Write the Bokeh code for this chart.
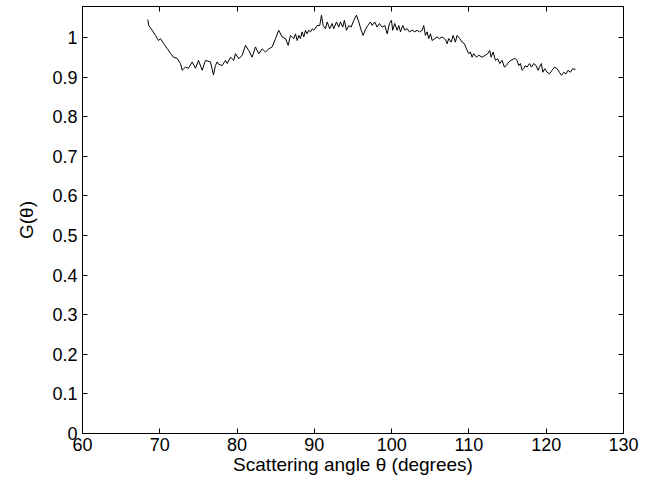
from bokeh.plotting import figure
from bokeh.models import Range1d, FixedTicker, LinearAxis
from bokeh.embed import file_html
from bokeh.resources import INLINE

angle = [68.45, 68.58, 69.02, 69.44, 69.83, 70.09, 70.48, 70.96, 71.38, 71.77, 72.25, 72.68, 72.90, 73.32,
         73.71, 74.19, 74.62, 75.01, 75.49, 75.91, 76.56, 76.95, 77.20, 77.42, 77.63, 78.07, 78.50, 78.72,
         79.15, 79.57, 79.79, 80.22, 80.66, 81.09, 81.51, 81.95, 82.38, 82.81, 83.25, 83.67, 84.10, 84.54,
         84.97, 85.39, 85.83, 86.26, 86.61, 86.91, 87.13, 87.34, 87.56, 87.78, 87.99, 88.20, 88.42, 88.63,
         88.85, 89.07, 89.28, 89.50, 89.72, 89.93, 90.36, 90.70, 90.92, 91.14, 91.44, 91.66, 91.99, 92.30,
         92.51, 92.86, 93.16, 93.38, 93.67, 93.89, 94.15, 94.45, 94.76, 95.10, 95.45, 95.75, 96.06, 96.31,
         96.61, 96.91, 97.26, 97.48, 97.81, 98.12, 98.42, 98.77, 99.11, 99.42, 99.72, 99.97, 100.14, 100.40,
         100.71, 100.92, 101.14, 101.44, 101.70, 102.01, 102.30, 102.65, 102.99, 103.30, 103.60, 103.95,
         104.15, 104.37, 104.59, 104.80, 105.02, 105.24, 105.58, 105.89, 106.18, 106.53, 106.96, 107.18,
         107.39, 107.70, 107.96, 108.25, 108.47, 108.81, 109.12, 109.42, 109.68, 109.97, 110.19, 110.41,
         110.62, 110.97, 111.27, 111.71, 112.13, 112.43, 112.69, 112.87, 113.13, 113.43, 113.73, 113.99,
         114.29, 114.59, 114.85, 115.15, 115.46, 115.80, 116.02, 116.23, 116.45, 116.66, 116.88, 117.09,
         117.31, 117.53, 117.83, 118.09, 118.38, 118.69, 118.95, 119.12, 119.38, 119.55, 119.81, 120.12,
         120.41, 120.76, 121.10, 121.41, 121.71, 121.97, 122.26, 122.57, 122.83, 123.13, 123.43, 123.78]

g_theta = [1.045, 1.030, 1.018, 1.005, 0.992, 0.997, 0.985, 0.972, 0.960, 0.950, 0.947, 0.934, 0.917, 0.925,
           0.922, 0.938, 0.922, 0.942, 0.917, 0.942, 0.938, 0.905, 0.929, 0.938, 0.932, 0.929, 0.942, 0.934,
           0.950, 0.942, 0.959, 0.946, 0.955, 0.980, 0.967, 0.950, 0.976, 0.959, 0.971, 0.963, 0.971, 0.976,
           0.997, 1.018, 1.001, 0.997, 0.980, 1.005, 1.001, 0.997, 1.009, 0.992, 1.005, 0.997, 1.014, 1.001,
           1.018, 1.009, 1.018, 1.014, 1.022, 1.018, 1.030, 1.030, 1.056, 1.030, 1.022, 1.039, 1.022, 1.035,
           1.022, 1.039, 1.026, 1.039, 1.026, 1.043, 1.018, 1.030, 1.026, 1.043, 1.056, 1.039, 1.018, 1.005,
           1.020, 1.030, 1.039, 1.030, 1.039, 1.026, 1.035, 1.026, 1.030, 1.009, 1.035, 1.043, 1.018, 1.035,
           1.018, 1.030, 1.014, 1.030, 1.018, 1.022, 1.014, 1.018, 1.014, 1.018, 1.014, 1.018,
           1.030, 1.005, 1.014, 0.997, 1.009, 0.992, 0.997, 1.001, 0.997, 1.001, 0.995, 0.984,
           0.997, 0.988, 1.005, 0.988, 1.005, 0.997, 0.988, 0.984, 0.971, 0.959, 0.963, 0.950,
           0.959, 0.950, 0.955, 0.950, 0.955, 0.959, 0.967, 0.950, 0.963, 0.942, 0.946, 0.934,
           0.942, 0.925, 0.929, 0.938, 0.942, 0.946, 0.946, 0.942, 0.929, 0.934, 0.917, 0.921,
           0.929, 0.925, 0.934, 0.925, 0.934, 0.929, 0.917, 0.925, 0.934, 0.912, 0.921, 0.912,
           0.908, 0.917, 0.925, 0.921, 0.912, 0.904, 0.912, 0.908, 0.917, 0.912, 0.921, 0.919]

x_ticks = [60, 70, 80, 90, 100, 110, 120, 130]
y_ticks = [0, 0.1, 0.2, 0.3, 0.4, 0.5, 0.6, 0.7, 0.8, 0.9, 1]
y_tick_labels = ["0", "0.1", "0.2", "0.3", "0.4", "0.5", "0.6", "0.7", "0.8", "0.9", "1"]

FONT = "Liberation Sans"

p = figure(width=645, height=480, output_backend="svg", toolbar_location=None,
           x_range=Range1d(60, 130), y_range=Range1d(0, 1.078),
           min_border_left=82, min_border_right=22, min_border_top=6, min_border_bottom=47)
p.grid.visible = False
p.outline_line_color = "black"
p.outline_line_width = 1
p.background_fill_color = "white"
p.border_fill_color = "white"

p.line(angle, g_theta, line_color="black", line_width=1)

def style(ax, ticks, labels=True):
    ax.ticker = FixedTicker(ticks=ticks)
    ax.major_tick_in = 5
    ax.major_tick_out = 0
    ax.minor_tick_line_color = None
    ax.axis_line_color = "black"
    ax.major_tick_line_color = "black"
    ax.major_label_text_font = FONT
    ax.axis_label_text_font = FONT
    ax.axis_label_text_font_style = "normal"
    ax.axis_label_text_color = "black"
    if labels:
        ax.major_label_text_color = "black"
        ax.major_label_text_font_size = "18px"
        ax.axis_label_text_font_size = "19px"
    else:
        ax.major_label_text_color = None
        ax.major_label_text_font_size = "0px"
        ax.major_label_standoff = 0

xa = p.xaxis[0]
style(xa, x_ticks)
xa.axis_label = "Scattering angle θ (degrees)"
xa.major_label_standoff = 4
xa.axis_label_standoff = 0

ya = p.yaxis[0]
style(ya, y_ticks)
ya.major_label_overrides = {t: l for t, l in zip(y_ticks, y_tick_labels)}
ya.axis_label = "G(θ)"
ya.major_label_standoff = 5
ya.axis_label_standoff = 12

top = LinearAxis()
style(top, x_ticks, labels=False)
p.add_layout(top, "above")
right = LinearAxis()
style(right, y_ticks, labels=False)
p.add_layout(right, "right")

open("out.html", "w").write(file_html(p, INLINE))
